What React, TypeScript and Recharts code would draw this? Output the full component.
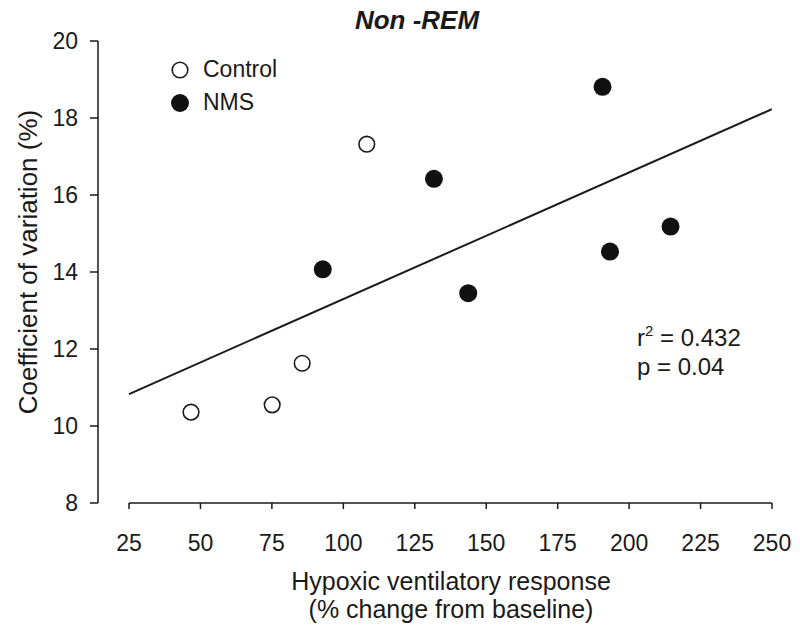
import React from "react";
import { ScatterChart, Scatter, XAxis, YAxis, Legend, ReferenceLine } from "recharts";

const FONT = "'Liberation Sans', Arial, sans-serif";
const INK = "#1a1a1a";

// Hypoxic ventilatory response (x) vs coefficient of variation (y)
const controlX = [46.7, 75.1, 85.6, 108.2];
const controlY = [10.36, 10.55, 11.63, 17.32];
const nmsX = [92.8, 131.7, 143.7, 190.7, 193.3, 214.5];
const nmsY = [14.07, 16.42, 13.45, 18.81, 14.53, 15.18];

// fitted regression line end points
const fitX = [25, 250];
const fitY = [10.83, 18.23];

const xTicks = [25, 50, 75, 100, 125, 150, 175, 200, 225, 250];
const yTicks = [8, 10, 12, 14, 16, 18, 20];

const zip = (xs: number[], ys: number[]) => xs.map((x, i) => ({ x, y: ys[i] }));
const controlData = zip(controlX, controlY);
const nmsData = zip(nmsX, nmsY);
const fitData = zip(fitX, fitY);

const OpenDot = (props: any) => (
  <circle cx={props.cx} cy={props.cy} r={7.8} fill="#fff" stroke={INK} strokeWidth={1.6} />
);
const FilledDot = (props: any) => <circle cx={props.cx} cy={props.cy} r={9} fill="#111" />;

function LegendBox() {
  const rows = [
    { label: "Control", open: true },
    { label: "NMS", open: false },
  ];
  return (
    <div style={{ fontFamily: FONT, fontSize: 23, color: INK }}>
      {rows.map((r) => (
        <div key={r.label} style={{ display: "flex", alignItems: "center", height: 33 }}>
          <svg width={20} height={20} style={{ marginRight: 13 }}>
            {r.open ? (
              <circle cx={10} cy={10} r={7.8} fill="#fff" stroke={INK} strokeWidth={1.6} />
            ) : (
              <circle cx={10} cy={10} r={9} fill="#111" />
            )}
          </svg>
          <span>{r.label}</span>
        </div>
      ))}
    </div>
  );
}

export default function App() {
  return (
    <div style={{ position: "absolute", left: 0, top: 0, background: "#fff" }}>
      <ScatterChart width={800} height={636} margin={{ top: 41, right: 28, bottom: 0, left: 0 }}>
        <XAxis
          type="number"
          dataKey="x"
          domain={[14.15, 250]}
          ticks={xTicks}
          allowDataOverflow
          axisLine={false}
          tickLine={{ stroke: INK, strokeWidth: 1.5 }}
          tickSize={6}
          tickMargin={26}
          height={133}
          tick={{ fill: INK, fontSize: 23, fontFamily: FONT }}
        />
        <YAxis
          type="number"
          dataKey="y"
          domain={[8, 20]}
          ticks={yTicks}
          width={98}
          axisLine={{ stroke: INK, strokeWidth: 1.5 }}
          tickLine={{ stroke: INK, strokeWidth: 1.5 }}
          tickSize={8}
          tickMargin={12}
          tick={{ fill: INK, fontSize: 23, fontFamily: FONT }}
        />
        <ReferenceLine
          segment={[{ x: 25, y: 8 }, { x: 250, y: 8 }]}
          stroke={INK}
          strokeWidth={1.5}
          ifOverflow="visible"
        />
        <Legend
          content={() => <LegendBox />}
          layout="horizontal"
          verticalAlign="middle"
          align="center"
          wrapperStyle={{ left: 170, top: 53, width: 160 }}
        />
        <Scatter
          name="fit"
          data={fitData}
          line={{ stroke: INK, strokeWidth: 2 }}
          shape={() => <g />}
          legendType="none"
          isAnimationActive={false}
        />
        <Scatter name="Control" data={controlData} shape={OpenDot} isAnimationActive={false} />
        <Scatter name="NMS" data={nmsData} shape={FilledDot} isAnimationActive={false} />

        <text x={417} y={29} textAnchor="middle" fontFamily={FONT} fontSize={26} fontWeight="bold" fontStyle="italic" fill={INK}>
          Non -REM
        </text>
        <text
          transform="translate(37, 262) rotate(-90)"
          textAnchor="middle"
          fontFamily={FONT}
          fontSize={26}
          fill={INK}
        >
          Coefficient of variation (%)
        </text>
        <text x={451} y={590} textAnchor="middle" fontFamily={FONT} fontSize={25} fill={INK}>
          Hypoxic ventilatory response
        </text>
        <text x={451} y={618} textAnchor="middle" fontFamily={FONT} fontSize={25} fill={INK}>
          (% change from baseline)
        </text>
        <text x={637} y={346} fontFamily={FONT} fontSize={24} fill={INK}>
          r<tspan fontSize={15} dy={-10}>2</tspan>
          <tspan dy={10}> = 0.432</tspan>
        </text>
        <text x={637} y={375} fontFamily={FONT} fontSize={24} fill={INK}>
          p = 0.04
        </text>
      </ScatterChart>
    </div>
  );
}
